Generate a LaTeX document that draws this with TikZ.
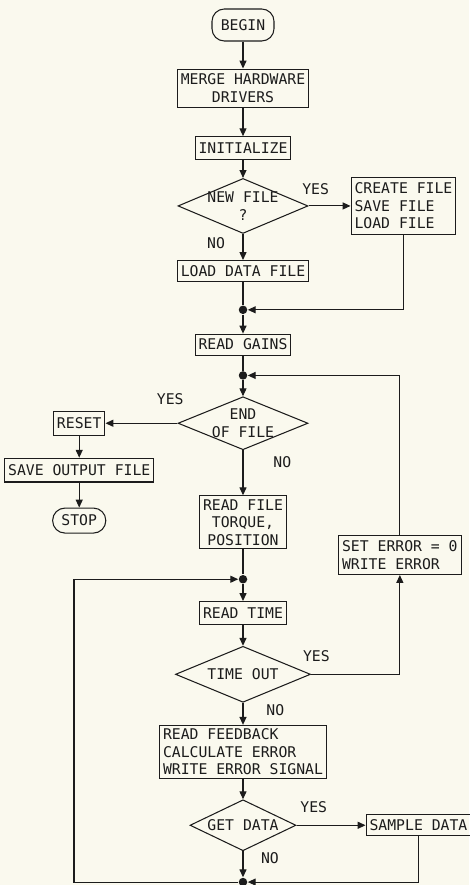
\documentclass[tikz,border=0pt]{standalone}
\usepackage{fontspec}
\usepackage{xcolor}
\usepackage{tikz}
\usetikzlibrary{arrows.meta, positioning, shapes.geometric}
\newfontfamily\chartfont{DejaVu Sans Mono}
\definecolor{paper}{RGB}{250,249,238}
\definecolor{ink}{RGB}{28,28,28}

\begin{document}
\begin{tikzpicture}[
    color=ink, line width=0.6pt,
    every node/.style={font=\chartfont\fontsize{8.4}{10}\selectfont},
    box/.style={rectangle, draw, inner xsep=2pt, inner ysep=2.8pt, align=center},
    proc/.style={box},
    list/.style={box, align=left},
    term/.style={box, rounded corners=7pt, inner xsep=5pt},
    decision/.style={diamond, draw, aspect=2.5, inner sep=-5pt, align=center,
                     minimum width=2.6cm, minimum height=1.1cm},
    dot/.style={circle, fill, inner sep=0pt, minimum size=0.17cm},
    lbl/.style={inner sep=1pt},
    arr/.style={-{Triangle[length=4.5pt, width=4pt]}},
  ]
    \fill[paper] (0,0) rectangle (9.38,-17.70);
    \useasboundingbox (0,0) rectangle (9.38,-17.70);

    % Start-up
    \node[term, minimum height=0.64cm] (begin) at (4.86,-0.50) {BEGIN};
    \node[proc, below=0.54cm of begin] (merge) {MERGE HARDWARE\\DRIVERS};
    \node[proc, below=0.56cm of merge, inner ysep=3.4pt] (init) {INITIALIZE};
    \node[decision, below=0.36cm of init] (newfile) {NEW FILE\\?};
    \node[list, right=0.84cm of newfile] (create) {CREATE FILE\\SAVE FILE\\LOAD FILE};
    \node[proc, below=0.52cm of newfile] (loaddata) {LOAD DATA FILE};
    \node[dot, below=0.46cm of loaddata] (dot1) {};
    \node[proc, below=0.38cm of dot1] (gains) {READ GAINS};
    \node[dot, below=0.30cm of gains] (dot2) {};

    % File loop
    \node[decision, below=0.32cm of dot2, minimum height=1.06cm] (eof) {END\\OF FILE};
    \node[proc, left=1.44cm of eof, inner ysep=3.6pt] (reset) {RESET};
    \node[proc, below=0.44cm of reset, inner ysep=3.6pt] (save) {SAVE OUTPUT FILE};
    \node[term, below=0.5cm of save, minimum height=0.5cm] (stop) {STOP};
    \node[proc, below=0.90cm of eof, inner ysep=2pt] (readfile) {READ FILE\\TORQUE,\\POSITION};
    \node[list, below right=0.26cm and 1.02cm of readfile.east] (seterror)
      {SET ERROR = 0\\WRITE ERROR};

    % Sampling loop
    \node[dot, below=0.50cm of readfile] (dot3) {};
    \node[proc, below=0.34cm of dot3, inner ysep=3.4pt] (readtime) {READ TIME};
    \node[decision, below=0.42cm of readtime, minimum width=2.7cm,
          minimum height=1.12cm] (timeout) {TIME OUT};
    \node[list, below=0.44cm of timeout, inner ysep=2pt] (feedback)
      {READ FEEDBACK\\CALCULATE ERROR\\WRITE ERROR SIGNAL};
    \node[decision, below=0.40cm of feedback, minimum width=2.12cm,
          minimum height=1.02cm] (getdata) {GET DATA};
    \node[proc, right=1.38cm of getdata] (sample) {SAMPLE DATA};
    \node[dot, below=0.52cm of getdata] (dot4) {};
    \coordinate (loop) at (1.48,0);

    % Arrows
    \draw[arr] (begin) -- (merge);
    \draw[arr] (merge) -- (init);
    \draw[arr] (init) -- (newfile);
    \draw[arr] (newfile) -- node[lbl, pos=0.17, above=5pt]{YES} (create);
    \draw[arr] (newfile) -- node[lbl, pos=0.35, left=9pt]{NO} (loaddata);
    \draw (loaddata) -- (dot1);
    \draw[arr] (create.south) |- (dot1);
    \draw[arr] (dot1) -- (gains);
    \draw (gains) -- (dot2);
    \draw[arr] (dot2) -- (eof);
    \draw[arr] (eof) -- node[lbl, pos=0.1, above=9pt]{YES} (reset);
    \draw[arr] (reset) -- (save);
    \draw[arr] (save) -- (stop);
    \draw[arr] (eof) -- node[lbl, pos=0.27, right=16pt]{NO} (readfile);
    \draw[arr] (seterror.north) |- (dot2);
    \draw (readfile) -- (dot3);
    \draw[arr] (dot3) -- (readtime);
    \draw[arr] (readtime) -- (timeout);
    \draw[arr] (timeout.east) -| node[lbl, pos=0.03, above=6pt]{YES} (seterror.south);
    \draw[arr] (timeout) -- node[lbl, pos=0.35, right=12pt]{NO} (feedback);
    \draw[arr] (feedback) -- (getdata);
    \draw[arr] (getdata) -- node[lbl, pos=0.25, above=6pt]{YES} (sample);
    \draw[arr] (getdata) -- node[lbl, pos=0.26, right=9pt]{NO} (dot4);
    \draw[arr] (sample.south) |- (dot4);

    % Sampling loop return
    \draw[arr] (dot4) -- (dot4 -| loop) |- (dot3);
  \end{tikzpicture}
\end{document}
